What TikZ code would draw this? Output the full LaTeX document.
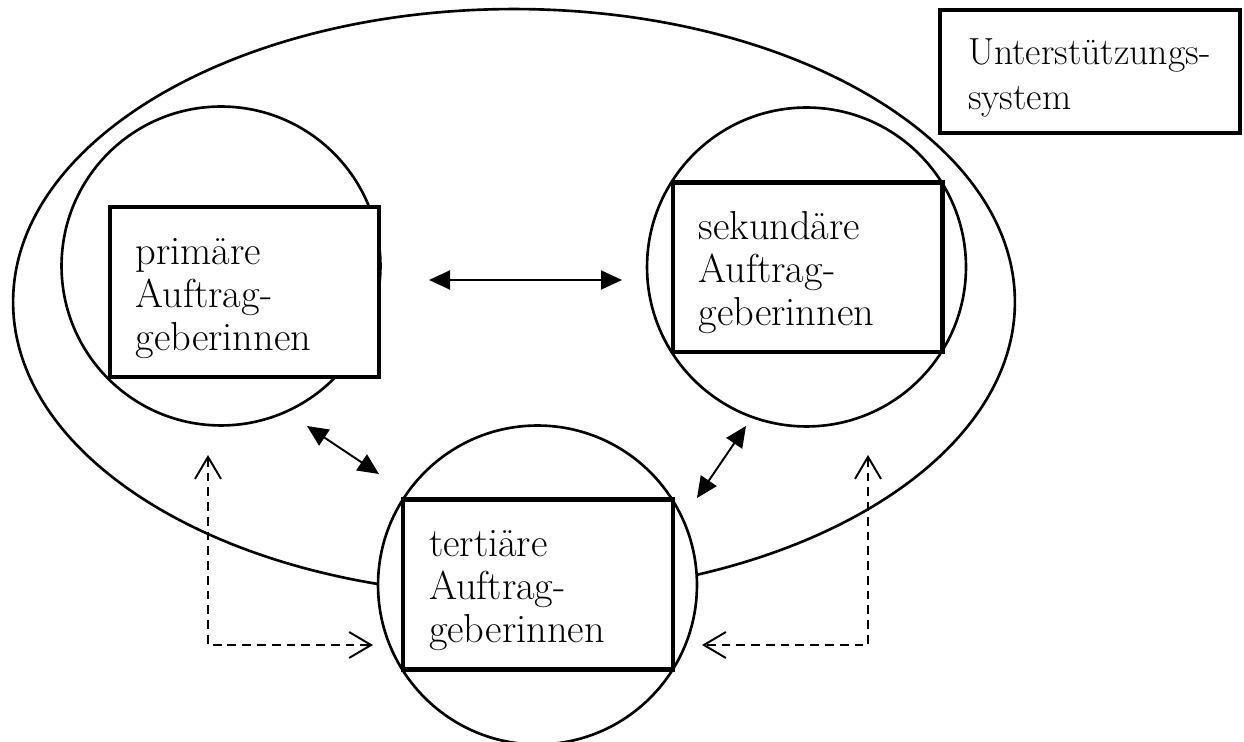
\documentclass[tikz,border=0pt]{standalone}
\usetikzlibrary{arrows.meta}

\begin{document}
\begin{tikzpicture}[x=0.02cm, y=-0.02cm,
    kreis/.style={draw, circle, line width=1.5pt, fill=white, minimum size=6.38cm, inner sep=0pt},
    auftrag/.style={draw, line width=2.3pt, fill=white, align=left, text width=4.36cm,
        inner xsep=0.52cm, minimum height=3.4cm, font=\fontsize{23}{24.5}\selectfont,
        execute at begin node={\rule{0pt}{22pt}}},
    pfeil/.style={line width=1.1pt, {Triangle[length=0.42cm,width=0.38cm]}-{Triangle[length=0.42cm,width=0.38cm]}},
    rueck/.style={line width=1.1pt, dash pattern=on 5pt off 3.4pt,
        {Straight Barb[length=0.44cm,width=0.52cm]}-{Straight Barb[length=0.44cm,width=0.52cm]}}]
    \useasboundingbox (0, 0) rectangle (1244, 742);

    \coordinate (h1) at (429, 280);
    \coordinate (h2) at (622, 280);
    \coordinate (d1) at (307, 426);
    \coordinate (d2) at (379, 474);
    \coordinate (d3) at (746, 426);
    \coordinate (d4) at (697, 498);
    \coordinate (lo) at (208, 455);
    \coordinate (le) at (208, 645);
    \coordinate (lr) at (373, 645);
    \coordinate (ro) at (868, 455);
    \coordinate (re) at (868, 645);
    \coordinate (rl) at (702, 645);

    \draw[line width=1.5pt] (514, 302) ellipse[x radius=10.02cm, y radius=5.86cm];

    \node[kreis] (primkreis) at (221, 266) {};
    \node[kreis] (sekkreis) at (806.5, 267) {};
    \node[kreis] (tertkreis) at (537.5, 585) {};

    \node[auftrag] (prim) at (244.5, 292) {prim\"are\\Auftrag-\\geberinnen};
    \node[auftrag] (sek) at (807.5, 267.5) {sekund\"are\\Auftrag-\\geberinnen};
    \node[auftrag] (tert) at (538, 584.5) {terti\"are\\Auftrag-\\geberinnen};

    \node[auftrag, font=\fontsize{21.5}{25.5}\selectfont, text width=4.88cm, inner xsep=0.56cm,
        minimum height=2.46cm] (unter) at (1090, 71.5) {\mbox{Unterst\"utzungs-}\\system};

    \draw[pfeil] (h1) -- (h2);
    \draw[pfeil] (d1) -- (d2);
    \draw[pfeil] (d3) -- (d4);

    \draw[rueck] (lo) -- (le) -- (lr);
    \draw[rueck] (ro) -- (re) -- (rl);
\end{tikzpicture}
\end{document}
